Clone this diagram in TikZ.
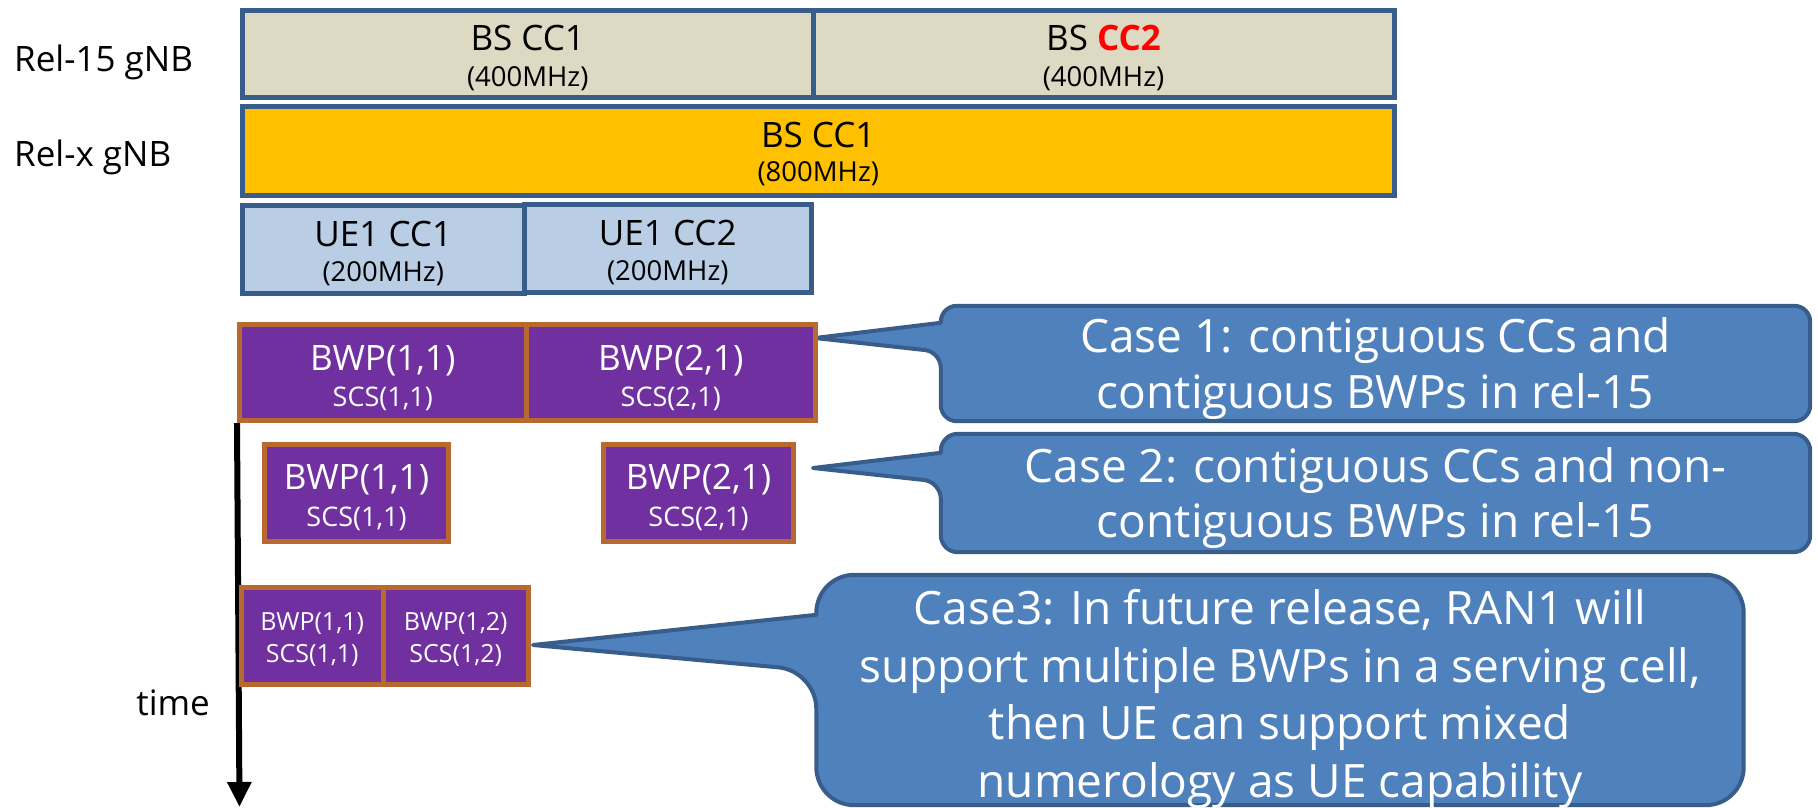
\documentclass[tikz,border=0pt]{standalone}
\usepackage{fontspec}
\setmainfont{Open Sans}
\usetikzlibrary{arrows.meta,calc}
\pgfdeclarelayer{background}
\pgfsetlayers{background,main}
\definecolor{tanfill}{HTML}{DDD9C3}
\definecolor{outl}{HTML}{385D8A}
\definecolor{gold}{HTML}{FFC000}
\definecolor{uefill}{HTML}{B9CDE5}
\definecolor{bwpfill}{HTML}{7030A0}
\definecolor{bwpline}{HTML}{B7692F}
\definecolor{callfill}{HTML}{4F81BD}
\definecolor{ccred}{HTML}{FF0000}
\newcommand{\fs}[2]{\fontsize{#1}{#2}\selectfont}
\begin{document}
\begin{tikzpicture}[x=1pt,y=-1pt,
  box/.style={draw, line width=5pt, inner sep=0pt, align=center, text depth=0pt},
  bsbox/.style={box, draw=outl, fill=tanfill, text=black},
  goldbox/.style={box, draw=outl, fill=gold, text=black},
  uebox/.style={box, draw=outl, fill=uefill, text=black},
  bwpbox/.style={box, draw=bwpline, fill=bwpfill, text=white},
  lbl/.style={inner sep=0pt, font={\fs{35}{40}}, text=black},
  calltext/.style={inner sep=0pt, align=center, text=white, text depth=0pt},
  callshape/.style={draw=outl, fill=callfill, line width=4pt, line join=round},
  timeline/.style={draw=black, line width=6pt, -{Triangle[length=25pt,width=23pt]}}
]
\useasboundingbox (0,0) rectangle (1818,808);

% labels
\node[lbl, anchor=base west] (rel15) at (14,72) {Rel-15 gNB};
\node[lbl, anchor=base west] (relx) at (14,166) {Rel-x gNB};
\node[lbl, anchor=base east] (time) at (210,715) {time};

% BS carriers
\node[bsbox, minimum width=570.5pt, minimum height=87pt, text height=64pt, font={\fs{27.5}{35.3}}] (bs1) at (527.75,54) {{\fs{35}{35.3}BS CC1}\\(400MHz)};
\node[bsbox, minimum width=581pt, minimum height=87pt, text height=64pt, font={\fs{27.5}{35.3}}] (bs2) at (1103.5,54) {{\fs{35}{35.3}BS \textcolor{ccred}{\bfseries CC2}}\\(400MHz)};
\node[goldbox, minimum width=1151.5pt, minimum height=89pt, text height=61.4pt, font={\fs{27.5}{34}}] (bsx) at (818.25,151) {{\fs{35}{34}BS CC1}\\(800MHz)};

% UE carriers
\node[uebox, minimum width=281.5pt, minimum height=88pt, text height=64.4pt, font={\fs{27.5}{35}}] (ue1) at (383.25,249.5) {{\fs{35}{35}UE1 CC1}\\(200MHz)};
\node[uebox, minimum width=287.5pt, minimum height=88pt, text height=64.4pt, font={\fs{27.5}{35}}] (ue2) at (667.75,248.5) {{\fs{35}{35}UE1 CC2}\\(200MHz)};

% Case 1 BWPs
\node[bwpbox, minimum width=286.5pt, minimum height=96pt, text height=67pt, font={\fs{27}{36}}] (b11) at (382.75,372.5) {{\fs{35}{36}BWP(1,1)}\\SCS(1,1)};
\node[bwpbox, minimum width=289.5pt, minimum height=96pt, text height=67pt, font={\fs{27}{36}}] (b21) at (670.75,372.5) {{\fs{35}{36}BWP(2,1)}\\SCS(2,1)};

% Case 2 BWPs
\node[bwpbox, minimum width=184pt, minimum height=97pt, text height=66pt, font={\fs{27}{37}}] (n11) at (356.5,493) {{\fs{35}{37}BWP(1,1)}\\SCS(1,1)};
\node[bwpbox, minimum width=190pt, minimum height=97pt, text height=66pt, font={\fs{27}{37}}] (n21) at (698.5,493) {{\fs{35}{37}BWP(2,1)}\\SCS(2,1)};

% Case 3 BWPs
\node[bwpbox, minimum width=141.5pt, minimum height=97pt, text height=52pt, font={\fs{25}{32}}] (m11) at (312.25,636) {BWP(1,1)\\SCS(1,1)};
\node[bwpbox, minimum width=145.5pt, minimum height=97pt, text height=52pt, font={\fs{25}{32}}] (m12) at (455.75,636) {BWP(1,2)\\SCS(1,2)};

% callout texts
\node[calltext, minimum width=869pt, minimum height=115pt, text height=89pt, font={\fs{46}{56}}] (c1) at (1375.5,363.5) {Case 1: contiguous CCs and\\contiguous BWPs in rel-15};
\node[calltext, minimum width=869pt, minimum height=118pt, text height=88pt, font={\fs{46}{55}}] (c2) at (1375.5,493) {Case 2: contiguous CCs and non-\\contiguous BWPs in rel-15};
\node[calltext, minimum width=927pt, minimum height=230pt, text height=214pt, font={\fs{46}{57.5}}] (c3) at (1280,690) {Case3: In future release, RAN1 will\\support multiple BWPs in a serving cell,\\then UE can support mixed\\numerology as UE capability};

% pointer tips and time axis end
\coordinate (t1) at (815,338);
\coordinate (t2) at (813,468);
\coordinate (t3) at (533,645);
\coordinate (tend) at (239.5,807);

\begin{pgfonlayer}{background}
\draw[timeline] (b11.south west) -- (tend);
\draw[callshape] (t1) -- ($(c1.north west)+(0,17)$) {[rounded corners=16pt] -- (c1.north west) -- (c1.north east) -- (c1.south east) -- (c1.south west) -- ($(c1.north west)+(0,46)$)} -- cycle;
\draw[callshape] (t2) -- ($(c2.north west)+(0,19)$) {[rounded corners=17pt] -- (c2.north west) -- (c2.north east) -- (c2.south east) -- (c2.south west) -- ($(c2.north west)+(0,48)$)} -- cycle;
\draw[callshape] (t3) -- ($(c3.north west)+(0,40)$) {[rounded corners=38pt] -- (c3.north west) -- (c3.north east) -- (c3.south east) -- (c3.south west) -- ($(c3.north west)+(0,96)$)} -- cycle;
\end{pgfonlayer}
\end{tikzpicture}
\end{document}
